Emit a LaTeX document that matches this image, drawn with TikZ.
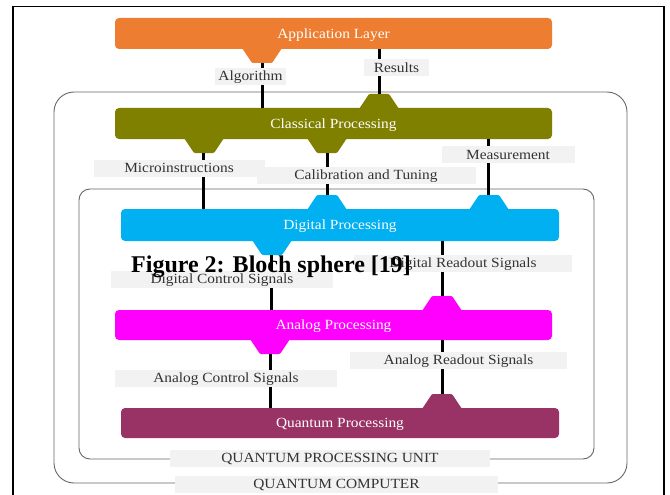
\documentclass[tikz,border=0pt]{standalone}
\usepackage{fontspec}
\setmainfont{Liberation Serif}
\newfontfamily\widefont[FakeStretch=1.1]{Liberation Serif}
\definecolor{appc}{HTML}{ED7D31}
\definecolor{clsc}{HTML}{7F7F00}
\definecolor{digc}{HTML}{00B0F0}
\definecolor{anac}{HTML}{FF00FF}
\definecolor{quac}{HTML}{993366}
\definecolor{labgray}{HTML}{F2F2F2}
\definecolor{labtext}{HTML}{333333}
\definecolor{framegray}{HTML}{666666}
\begin{document}
\begin{tikzpicture}[x=1pt,y=-1pt,
  procbox/.style={fill=#1, rounded corners=4pt, text=white, font=\widefont\fontsize{14}{16}\selectfont, inner sep=0pt, text height=9.5pt, text depth=0pt},
  lab/.style={fill=labgray, text=labtext, font=\widefont\fontsize{14}{16}\selectfont, inner sep=0pt, minimum height=17pt, text height=9.5pt, text depth=0.5pt},
  wire/.style={line width=3pt, black},
  unitframe/.style={draw=framegray, line width=0.9pt},
  tabdn/.pic={\fill[#1, rounded corners=1pt] (-20,-1) -- (20,-1) -- (10,14) -- (-10,14) -- cycle;},
  tabup/.pic={\fill[#1, rounded corners=1pt] (-20,1) -- (20,1) -- (10,-14) -- (-10,-14) -- cycle;}]
\useasboundingbox (0,0) rectangle (670,495);
\fill[white] (0,0) rectangle (670,495);
% outer page frame
\draw[line width=1.6pt] (12.8,497) -- (12.8,6.5) -- (664,6.5) -- (664,497);
% enclosing frames
\draw[unitframe, rounded corners=20pt] (54,92) rectangle (627,483);
\draw[unitframe, rounded corners=11pt] (79,189) rectangle (594,459);
% processing boxes
\node[procbox=appc, minimum width=437pt, minimum height=31pt] (app) at (333.5,33.5) {Application Layer};
\node[procbox=clsc, minimum width=437pt, minimum height=31pt] (cls) at (333.5,123.5) {Classical Processing};
\node[procbox=digc, minimum width=438pt, minimum height=32pt] (dig) at (340,225) {Digital Processing};
\node[procbox=anac, minimum width=437pt, minimum height=30pt] (ana) at (333.5,325) {Analog Processing};
\node[procbox=quac, minimum width=438pt, minimum height=30pt] (qua) at (340,423) {Quantum Processing};
% tabs
\pic at (262,49) {tabdn=appc};
\pic at (379,108) {tabup=clsc};
\pic at (204,139) {tabdn=clsc};
\pic at (327,139) {tabdn=clsc};
\pic at (327,209) {tabup=digc};
\pic at (489,209) {tabup=digc};
\pic at (272,241) {tabdn=digc};
\pic at (442,310) {tabup=anac};
\pic at (270,340) {tabdn=anac};
\pic at (442,408) {tabup=quac};
% tab tips
\coordinate (tApp) at (262,63);
\coordinate (tClsU) at (379,94);
\coordinate (tClsA) at (203,153);
\coordinate (tClsB) at (327,153);
\coordinate (tDigA) at (327,195);
\coordinate (tDigB) at (488,195);
\coordinate (tDigC) at (271,255);
\coordinate (tAnaU) at (442,296);
\coordinate (tAnaD) at (270,354);
\coordinate (tQua) at (442,394);
% connectors
\draw[wire] (tApp) -- (tApp |- cls.north);
\draw[wire] (tClsU) -- (tClsU |- app.south);
\draw[wire] (tClsA) -- (tClsA |- dig.north);
\draw[wire] (tClsB) -- (tDigA);
\draw[wire] (tDigB |- cls.south) -- (tDigB);
\draw[wire] (tDigC) -- (tDigC |- ana.north);
\draw[wire] (tAnaU |- dig.south) -- (tAnaU);
\draw[wire] (tAnaD) -- (tAnaD |- qua.north);
\draw[wire] (tQua |- ana.south) -- (tQua);
% labels
\node[lab, minimum width=71pt] (lAlg) at (250.5,76.5) {Algorithm};
\node[lab, minimum width=65pt] (lRes) at (396.5,68) {Results};
\node[lab, minimum width=171pt] (lMic) at (179,168) {Microinstructions};
\node[lab, minimum width=219pt] (lCal) at (366,175) {Calibration and Tuning};
\node[lab, minimum width=133pt] (lMea) at (508,154.5) {Measurement};
\node[lab, minimum width=218pt] (lDRS) at (463,263) {Digital Readout Signals};
\node[lab, minimum width=222pt] (lDCS) at (222,279) {Digital Control Signals};
\node[lab, minimum width=217pt] (lARS) at (458.5,360) {Analog Readout Signals};
\node[lab, minimum width=222pt] (lACS) at (226,378) {Analog Control Signals};
\node[lab, minimum width=320pt] (lQPU) at (330,458) {QUANTUM PROCESSING UNIT};
\node[lab, minimum width=323pt] (lQC) at (336.5,484) {QUANTUM COMPUTER};
% overlapping caption
\node[anchor=base west, inner sep=0pt, font=\bfseries\fontsize{24}{28}\selectfont] (cap) at (131,272) {Figure 2: Bloch sphere [19]};
\end{tikzpicture}
\end{document}
